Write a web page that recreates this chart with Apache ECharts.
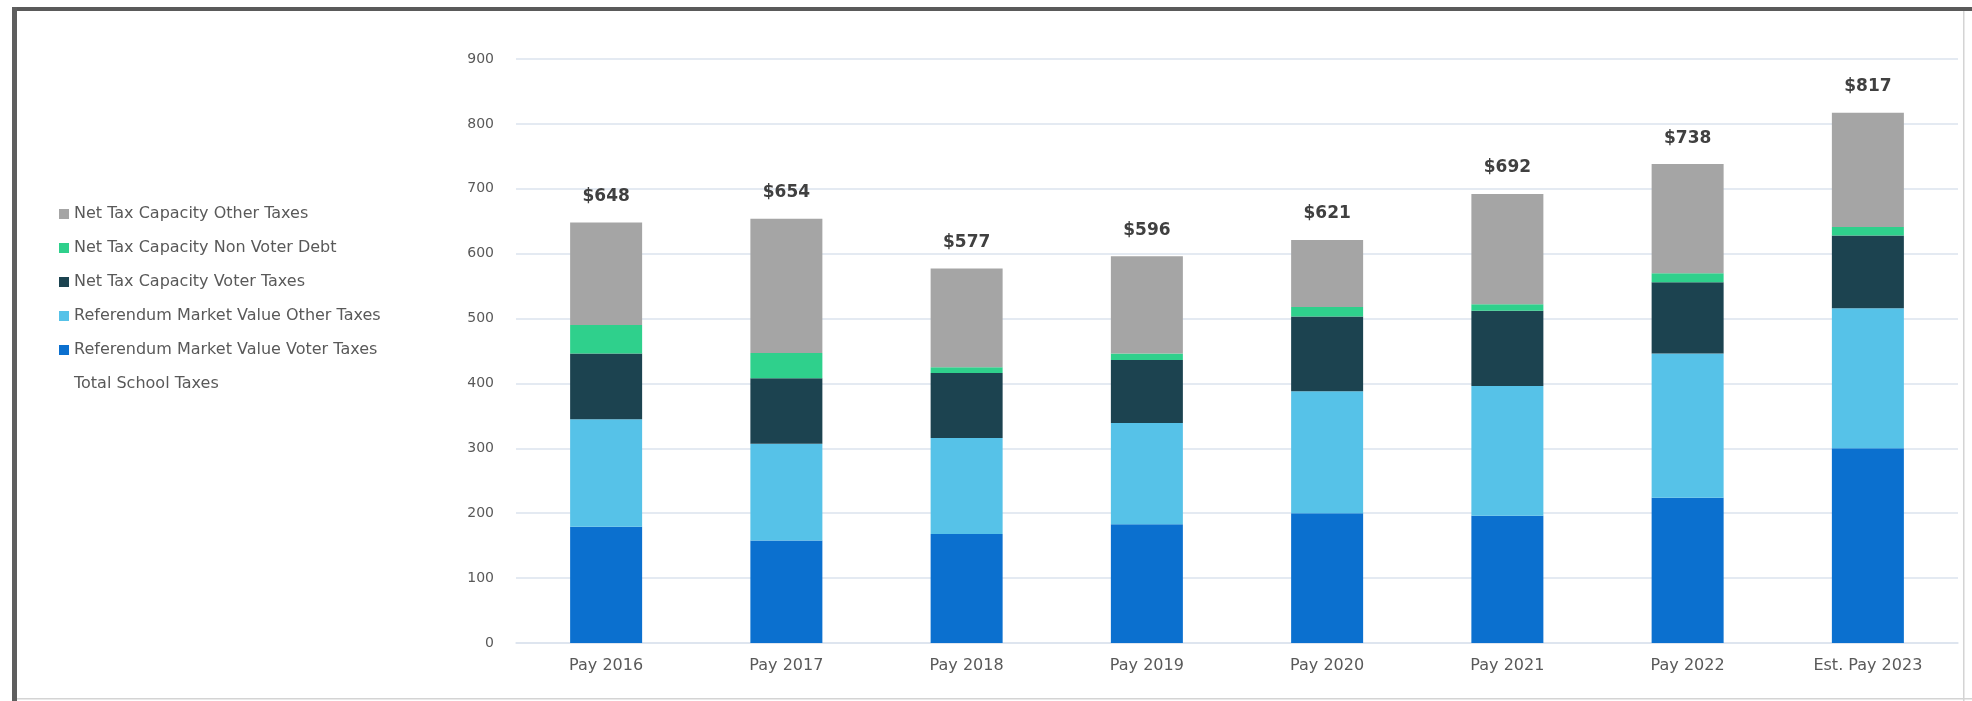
<!DOCTYPE html>
<html>
<head>
<meta charset="utf-8">
<title>School Taxes</title>
<script src="https://cdn.jsdelivr.net/npm/echarts@6/dist/echarts.min.js"></script>
<style>
  html, body { margin: 0; padding: 0; background: #ffffff; }
  #chart { width: 1972px; height: 701px; }
</style>
</head>
<body>
<div id="chart"></div>
<script>
// Tax years
const categories = ['Pay 2016', 'Pay 2017', 'Pay 2018', 'Pay 2019', 'Pay 2020', 'Pay 2021', 'Pay 2022', 'Est. Pay 2023'];

// Stacked components (bottom to top)
const rmvVoterTaxes   = [179, 158, 168, 183, 200, 196, 224, 300];
const rmvOtherTaxes   = [166, 149, 148, 156, 188, 200, 222, 216];
const ntcVoterTaxes   = [101, 101, 100,  97, 115, 116, 110, 112];
const ntcNonVoterDebt = [ 44,  39,   9,  10,  15,  10,  14,  13];
const ntcOtherTaxes   = [158, 207, 152, 150, 103, 170, 168, 176];

// Total school taxes per year
const totalSchoolTaxes = [648, 654, 577, 596, 621, 692, 738, 817];

// Value axis ticks
const yTicks = [0, 100, 200, 300, 400, 500, 600, 700, 800, 900];

const FONT = 'DejaVu Sans';

const names = {
  rmvVoter: 'Referendum Market Value Voter Taxes',
  rmvOther: 'Referendum Market Value Other Taxes',
  ntcVoter: 'Net Tax Capacity Voter Taxes',
  ntcDebt: 'Net Tax Capacity Non Voter Debt',
  ntcOther: 'Net Tax Capacity Other Taxes',
  total: 'Total School Taxes'
};

function stackBar(name, data, color) {
  return {
    name: name,
    type: 'bar',
    stack: 'taxes',
    barWidth: 72,
    data: data,
    itemStyle: { color: color },
    emphasis: { disabled: true }
  };
}

const chart = echarts.init(document.getElementById('chart'), null, { renderer: 'canvas' });

chart.setOption({
  animation: false,
  backgroundColor: '#ffffff',
  grid: { left: 516, right: 14, top: 59, bottom: 58, containLabel: false },
  legend: {
    orient: 'vertical',
    left: 59,
    top: 206,
    padding: 0,
    itemWidth: 10,
    itemHeight: 10,
    itemGap: 18,
    icon: 'rect',
    selectedMode: false,
    textStyle: { fontFamily: FONT, fontSize: 16, color: '#595959' },
    data: [names.ntcOther, names.ntcDebt, names.ntcVoter, names.rmvOther, names.rmvVoter, names.total]
  },
  xAxis: {
    type: 'category',
    data: categories,
    axisLine: { show: true, lineStyle: { color: '#dbe3ee', width: 1.5 } },
    axisTick: { show: false },
    axisLabel: { fontFamily: FONT, fontSize: 16, color: '#595959', margin: 15 }
  },
  yAxis: {
    type: 'value',
    min: yTicks[0],
    max: yTicks[yTicks.length - 1],
    interval: yTicks[1] - yTicks[0],
    axisLine: { show: false },
    axisTick: { show: false },
    axisLabel: { fontFamily: FONT, fontSize: 14, color: '#595959', margin: 22 },
    splitLine: { lineStyle: { color: '#dbe3ee', width: 1.5 } }
  },
  series: [
    stackBar(names.rmvVoter, rmvVoterTaxes, '#0b70cf'),
    stackBar(names.rmvOther, rmvOtherTaxes, '#56c2e8'),
    stackBar(names.ntcVoter, ntcVoterTaxes, '#1c4350'),
    stackBar(names.ntcDebt, ntcNonVoterDebt, '#2fd08c'),
    stackBar(names.ntcOther, ntcOtherTaxes, '#a5a5a5'),
    {
      name: names.total,
      type: 'line',
      data: totalSchoolTaxes,
      symbol: 'circle',
      symbolSize: 1,
      itemStyle: { color: 'rgba(0,0,0,0)' },
      lineStyle: { width: 0, color: 'rgba(0,0,0,0)' },
      emphasis: { disabled: true },
      label: {
        show: true,
        position: 'top',
        distance: 17,
        formatter: p => '$' + p.value,
        fontFamily: FONT,
        fontSize: 17,
        fontWeight: 'bold',
        color: '#404040'
      },
      z: 5
    }
  ],
  graphic: [
    // outer frame
    { type: 'rect', shape: { x: 12, y: 7, width: 1960, height: 4 }, style: { fill: '#5a5a5a' }, silent: true },
    { type: 'rect', shape: { x: 12, y: 7, width: 5, height: 694 }, style: { fill: '#5e5e5e' }, silent: true },
    { type: 'rect', shape: { x: 1963, y: 11, width: 1.5, height: 690 }, style: { fill: '#d4d4d4' }, silent: true },
    { type: 'rect', shape: { x: 17, y: 698, width: 1955, height: 1.5 }, style: { fill: '#d4d4d4' }, silent: true }
  ]
});
</script>
</body>
</html>
